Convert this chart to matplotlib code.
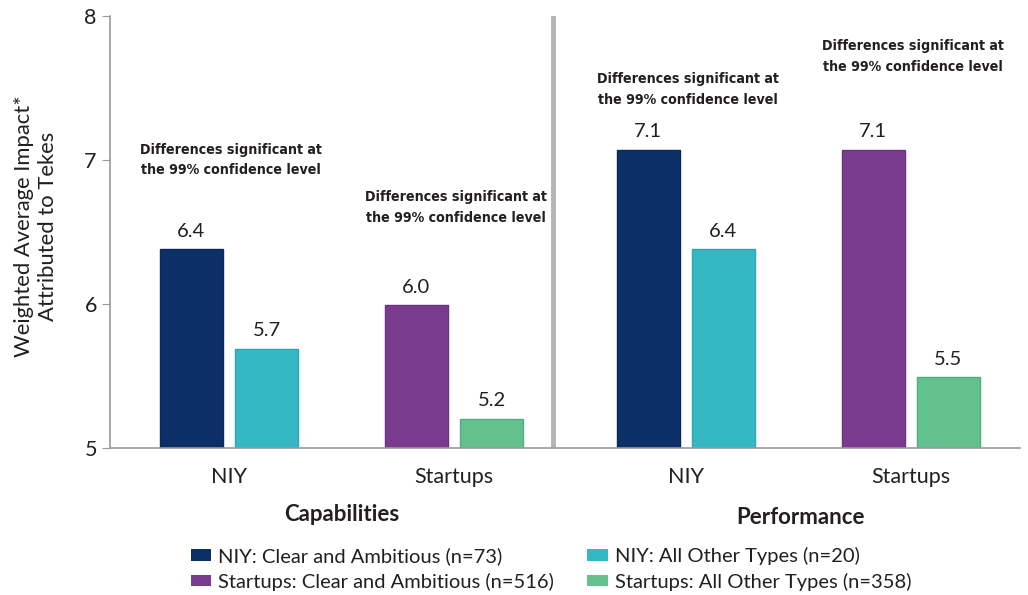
import numpy as np
import matplotlib
matplotlib.use('Agg')
import matplotlib.pyplot as plt
from matplotlib.patches import Patch
import matplotlib.transforms as mtransforms
from matplotlib import font_manager

plt.rcParams['font.family'] = ['Lato', 'DejaVu Sans']

# data
sections = ['Capabilities', 'Performance']
groups = ['NIY', 'Startups', 'NIY', 'Startups']
group_pos = [0.0, 1.0, 2.03, 3.03]

series = ['NIY: Clear and Ambitious (n=73)', 'NIY: All Other Types (n=20)',
          'Startups: Clear and Ambitious (n=516)', 'Startups: All Other Types (n=358)']
colors = ['#0b2f66', '#36b8c4', '#7a3b8f', '#62c18f']
edges = ['#0a2958', '#2aa6b2', '#6a3280', '#4fae7c']

# per group: (left bar, right bar)
left_vals = [6.38, 5.99, 7.07, 7.07]
right_vals = [5.69, 5.20, 6.38, 5.49]
left_lbls = ['6.4', '6.0', '7.1', '7.1']
right_lbls = ['5.7', '5.2', '6.4', '5.5']
left_series = [0, 2, 0, 2]
right_series = [1, 3, 1, 3]

note = 'Differences significant at\nthe 99% confidence level'
note_y = [7.0, 6.67, 7.49, 7.72]

# look for a condensed bold face for the notes
note_font = None
for f in font_manager.fontManager.ttflist:
    nm = (f.name + ' ' + f.fname).lower()
    if ('condensed' in nm or 'narrow' in nm or f.stretch in ('condensed', 'semi-condensed')) \
            and f.weight in ('bold', 700, 'semibold', 600):
        note_font = font_manager.FontProperties(fname=f.fname)
        break
if note_font is None:
    note_font = font_manager.FontProperties(family=['Lato', 'DejaVu Sans'], weight='bold')
    note_size = 9.5
else:
    note_size = 10.2
note_font.set_size(note_size)

fig = plt.figure(figsize=(10.28, 5.95), dpi=100)
ax = fig.add_axes([110/1028, 1 - 448/595, 910/1028, 432/595])

w = 0.28
off = 0.167
for i, g in enumerate(groups):
    x = group_pos[i]
    ls, rs = left_series[i], right_series[i]
    ax.bar(x - off, left_vals[i] - 5, w, bottom=5, color=colors[ls], edgecolor=edges[ls], linewidth=1)
    ax.bar(x + off, right_vals[i] - 5, w, bottom=5, color=colors[rs], edgecolor=edges[rs], linewidth=1)
    ax.annotate(left_lbls[i], (x - off, left_vals[i]), xytext=(0, 7), textcoords='offset points',
                ha='center', va='bottom', fontsize=14.5, color='#231f20')
    ax.annotate(right_lbls[i], (x + off, right_vals[i]), xytext=(0, 7), textcoords='offset points',
                ha='center', va='bottom', fontsize=14.5, color='#231f20')
    ax.text(x + 0.01, note_y[i], note, ha='center', va='center', fontproperties=note_font,
            color='#231f20', linespacing=1.62)

ax.set_xlim(-0.529, 3.516)
ax.set_ylim(5, 8)
ax.set_yticks([5, 6, 7, 8])
ax.tick_params(axis='y', labelsize=15.5, length=6, color='#9a9a9a', labelcolor='#231f20', pad=3.5)
ax.set_xticks(group_pos)
ax.set_xticklabels(groups)
ax.tick_params(axis='x', length=0, labelsize=15.5, labelcolor='#231f20', pad=14)

for s in ['top', 'right']:
    ax.spines[s].set_visible(False)
for s in ['left', 'bottom']:
    ax.spines[s].set_color('#9a9a9a')
    ax.spines[s].set_linewidth(1.2)

ax.axvline(1.44, color='#b5b5b5', linewidth=3.5)

trans = mtransforms.blended_transform_factory(ax.transData, ax.transAxes)
ax.text(0.5, -0.154, sections[0], transform=trans, ha='center', va='center',
        fontsize=16, fontweight='bold', color='#231f20')
ax.text(2.54, -0.161, sections[1], transform=trans, ha='center', va='center',
        fontsize=16, fontweight='bold', color='#231f20')

fig.text(36/1028, 1 - 226/595, 'Weighted Average Impact*\nAttributed to Tekes', rotation=90,
         ha='center', va='center', fontsize=15.8, color='#231f20', multialignment='center',
         linespacing=1.25)

handles = [Patch(facecolor=colors[k], edgecolor='none') for k in [0, 2, 1, 3]]
labels = [series[k] for k in [0, 2, 1, 3]]
fig.legend(handles, labels, ncol=2, loc='upper left', bbox_to_anchor=(179/1028, 1 - 535/595),
           frameon=False, fontsize=14.5, handlelength=1.0, handleheight=0.5,
           handletextpad=0.35, columnspacing=1.65, labelspacing=0.37, borderpad=0.1,
           labelcolor='#231f20')

fig.savefig('out.png', dpi=100)
